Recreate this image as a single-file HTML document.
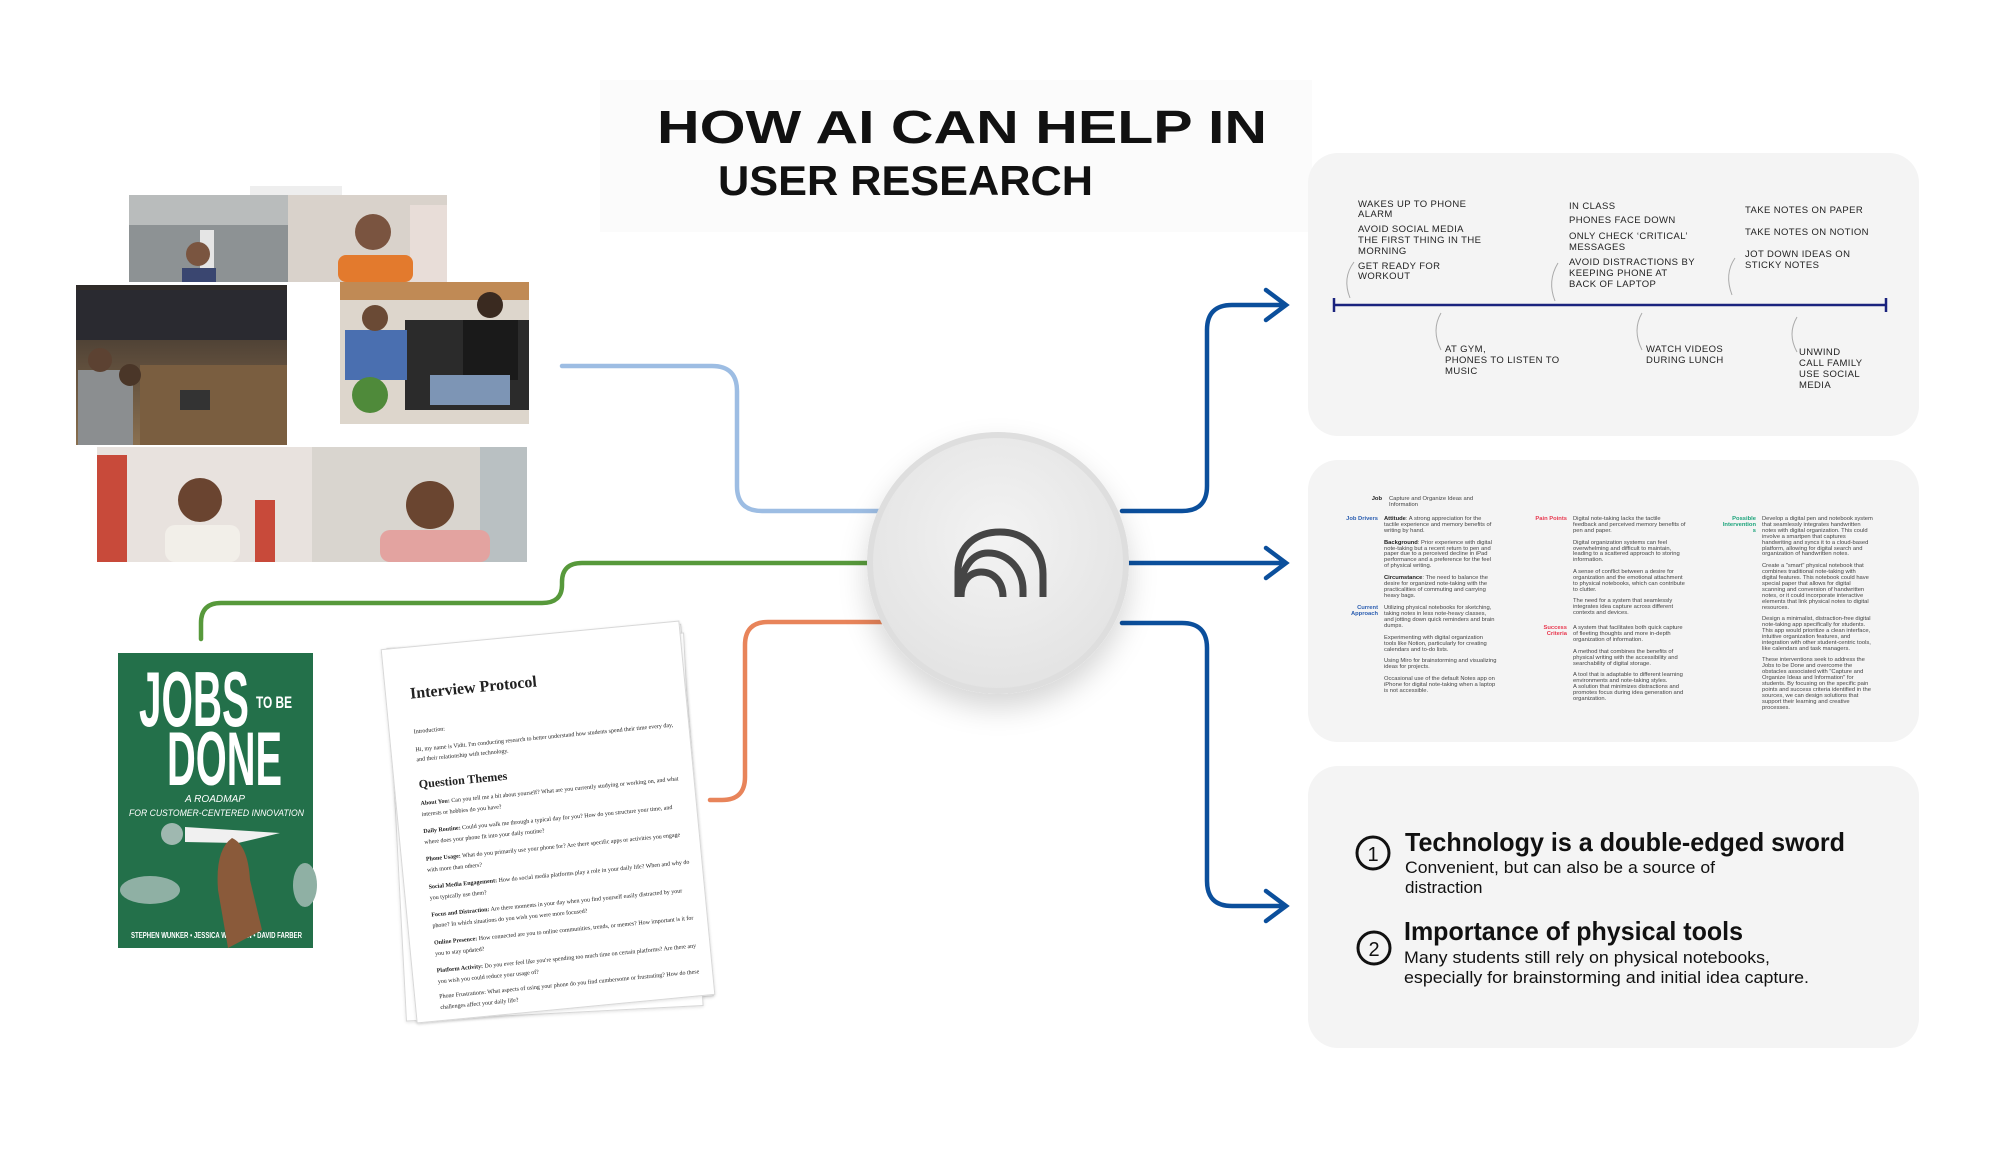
<!DOCTYPE html>
<html><head><meta charset="utf-8">
<style>
html,body{margin:0;padding:0;background:#fff;}
body{width:2000px;height:1176px;position:relative;overflow:hidden;font-family:"Liberation Sans",sans-serif;}
svg{position:absolute;left:0;top:0;}
.paper{position:absolute;background:#fff;border:1px solid #d8d8d8;box-shadow:0 1px 3px rgba(0,0,0,.12);}
.pt{font-family:"Liberation Serif",serif;color:#222;position:absolute;left:24px;width:265px;}
</style></head><body>

<div class="paper" style="left:400px;top:636px;width:296px;height:372px;transform:rotate(-5deg);"></div>
<div class="paper" style="left:396px;top:640px;width:296px;height:372px;transform:rotate(-3deg);"></div>
<div class="paper" style="left:398px;top:634px;width:298px;height:374px;transform:rotate(-5.5deg);">
  <div class="pt" style="top:38px;font-size:16px;font-weight:bold;">Interview Protocol</div>
  <div class="pt" style="top:82px;font-size:6px;">Introduction:</div>
  <div class="pt" style="top:98px;font-size:6px;line-height:10px;">Hi, my name is Vidit. I'm conducting research to better understand how students spend their time every day, and their relationship with technology.</div>
  <div class="pt" style="top:130px;font-size:12px;font-weight:bold;">Question Themes</div>
  <div class="pt" style="top:152px;font-size:6px;line-height:11px;"><b>About You:</b> Can you tell me a bit about yourself? What are you currently studying or working on, and what interests or hobbies do you have?</div>
  <div class="pt" style="top:180px;font-size:6px;line-height:11px;"><b>Daily Routine:</b> Could you walk me through a typical day for you? How do you structure your time, and where does your phone fit into your daily routine?</div>
  <div class="pt" style="top:208px;font-size:6px;line-height:11px;"><b>Phone Usage:</b> What do you primarily use your phone for? Are there specific apps or activities you engage with more than others?</div>
  <div class="pt" style="top:236px;font-size:6px;line-height:11px;"><b>Social Media Engagement:</b> How do social media platforms play a role in your daily life? When and why do you typically use them?</div>
  <div class="pt" style="top:264px;font-size:6px;line-height:11px;"><b>Focus and Distraction:</b> Are there moments in your day when you find yourself easily distracted by your phone? In which situations do you wish you were more focused?</div>
  <div class="pt" style="top:292px;font-size:6px;line-height:11px;"><b>Online Presence:</b> How connected are you to online communities, trends, or memes? How important is it for you to stay updated?</div>
  <div class="pt" style="top:320px;font-size:6px;line-height:11px;"><b>Platform Activity:</b> Do you ever feel like you're spending too much time on certain platforms? Are there any you wish you could reduce your usage of?</div>
  <div class="pt" style="top:346px;font-size:6px;line-height:11px;">Phone Frustrations: What aspects of using your phone do you find cumbersome or frustrating? How do these challenges affect your daily life?</div>
</div>

<svg width="2000" height="1176" viewBox="0 0 2000 1176">
<defs>
<radialGradient id="cg" cx="50%" cy="40%" r="60%"><stop offset="0" stop-color="#f3f3f3"/><stop offset="1" stop-color="#e3e3e3"/></radialGradient>
<filter id="sh" x="-30%" y="-30%" width="160%" height="170%"><feDropShadow dx="0" dy="14" stdDeviation="14" flood-color="#000" flood-opacity="0.16"/></filter>
<linearGradient id="lib" x1="0" y1="0" x2="0" y2="1"><stop offset="0" stop-color="#2e2a28"/><stop offset=".45" stop-color="#5a4a3a"/><stop offset="1" stop-color="#8a7050"/></linearGradient>
</defs>

<rect x="600" y="80" width="712" height="152" fill="#fbfbfb"/>
<text x="657" y="143" font-family="Liberation Sans" font-weight="bold" font-size="46" textLength="610" lengthAdjust="spacingAndGlyphs" fill="#111">HOW AI CAN HELP IN</text>
<text x="718" y="195" font-family="Liberation Sans" font-weight="bold" font-size="42" textLength="375" lengthAdjust="spacingAndGlyphs" fill="#111">USER RESEARCH</text>

<rect x="1308" y="153" width="611" height="283" rx="30" fill="#f4f4f4"/>
<rect x="1308" y="460" width="611" height="282" rx="30" fill="#f4f4f4"/>
<rect x="1308" y="766" width="611" height="282" rx="30" fill="#f4f4f4"/>

<g fill="none" stroke-width="4.5" stroke-linecap="round">
<path d="M562,366 H712 Q737,366 737,391 V486 Q737,511 762,511 H880" stroke="#9dbde3"/>
<path d="M201,639 V623 Q201,603 221,603 H542 Q562,603 562,585 V582 Q562,563 582,563 H872" stroke="#57993b"/>
<path d="M710,800 H722 Q745,800 745,777 V645 Q745,622 768,622 H882" stroke="#e8845a"/>
<path d="M1122,511 H1182 Q1207,511 1207,486 V330 Q1207,305 1232,305 H1286 M1266,290 L1286,305 L1266,320" stroke="#0b4f9c"/>
<path d="M1128,563 H1286 M1266,548 L1286,563 L1266,578" stroke="#0b4f9c"/>
<path d="M1122,623 H1182 Q1207,623 1207,648 V881 Q1207,906 1232,906 H1286 M1266,891 L1286,906 L1266,921" stroke="#0b4f9c"/>
</g>

<circle cx="998" cy="563" r="128" fill="url(#cg)" stroke="#dedede" stroke-width="6" filter="url(#sh)"/>
<g fill="none" stroke="#454545" stroke-width="7">
<path d="M958,597 V572 C958,545 977,532 1000,532 C1024,532 1043,548 1043,574 V597"/>
<path d="M960,590 C962,565 974,553 988,553 C1006,553 1023,567 1023,590 V597"/>
<path d="M961,597 C961,581 970,572 981,572 C994,572 1003,582 1003,597"/>
</g>

<line x1="1334" y1="305" x2="1886" y2="305" stroke="#1a237e" stroke-width="2.5"/>
<line x1="1334" y1="298" x2="1334" y2="312" stroke="#1a237e" stroke-width="2.5"/>
<line x1="1886" y1="298" x2="1886" y2="312" stroke="#1a237e" stroke-width="2.5"/>
<g fill="none" stroke="#aaa" stroke-width="1">
<path d="M1350,298 Q1342,278 1354,262"/><path d="M1555,301 Q1547,281 1558,263"/><path d="M1732,295 Q1724,274 1735,258"/>
<path d="M1441,313 Q1431,330 1441,350"/><path d="M1642,313 Q1632,330 1642,350"/><path d="M1797,317 Q1787,334 1797,352"/>
</g>
<g font-family="Liberation Sans" font-size="9.5" fill="#222" letter-spacing="0.4">
<text x="1358" y="207">WAKES UP TO PHONE</text><text x="1358" y="217">ALARM</text>
<text x="1358" y="232">AVOID SOCIAL MEDIA</text><text x="1358" y="243">THE FIRST THING IN THE</text><text x="1358" y="254">MORNING</text>
<text x="1358" y="269">GET READY FOR</text><text x="1358" y="279">WORKOUT</text>
<text x="1569" y="209">IN CLASS</text><text x="1569" y="223">PHONES FACE DOWN</text>
<text x="1569" y="239">ONLY CHECK ‘CRITICAL’</text><text x="1569" y="250">MESSAGES</text>
<text x="1569" y="265">AVOID DISTRACTIONS BY</text><text x="1569" y="276">KEEPING PHONE AT</text><text x="1569" y="287">BACK OF LAPTOP</text>
<text x="1745" y="213">TAKE NOTES ON PAPER</text><text x="1745" y="235">TAKE NOTES ON NOTION</text>
<text x="1745" y="257">JOT DOWN IDEAS ON</text><text x="1745" y="268">STICKY NOTES</text>
<text x="1445" y="352">AT GYM,</text><text x="1445" y="363">PHONES TO LISTEN TO</text><text x="1445" y="374">MUSIC</text>
<text x="1646" y="352">WATCH VIDEOS</text><text x="1646" y="363">DURING LUNCH</text>
<text x="1799" y="355">UNWIND</text><text x="1799" y="366">CALL FAMILY</text><text x="1799" y="377">USE SOCIAL</text><text x="1799" y="388">MEDIA</text>
</g>

<g font-family="Liberation Sans" font-size="5.8" fill="#444">
<text x="1382" y="500" text-anchor="end" font-weight="bold" fill="#222">Job</text>
<text x="1389" y="500">Capture and Organize Ideas and</text><text x="1389" y="506">Information</text>
<g text-anchor="end" font-weight="bold" fill="#2a5db0"><text x="1378" y="520">Job Drivers</text><text x="1378" y="609">Current</text><text x="1378" y="615">Approach</text></g>
<g text-anchor="end" font-weight="bold" fill="#e8384f"><text x="1567" y="520">Pain Points</text><text x="1567" y="629">Success</text><text x="1567" y="635">Criteria</text></g>
<g text-anchor="end" font-weight="bold" fill="#1aa37a"><text x="1756" y="520">Possible</text><text x="1756" y="526">Intervention</text><text x="1756" y="532">s</text></g>
<g>
<text x="1384" y="520"><tspan font-weight="bold" fill="#222">Attitude</tspan>: A strong appreciation for the</text>
<text x="1384" y="526">tactile experience and memory benefits of</text><text x="1384" y="532">writing by hand.</text>
<text x="1384" y="544"><tspan font-weight="bold" fill="#222">Background</tspan>: Prior experience with digital</text>
<text x="1384" y="550">note-taking but a recent return to pen and</text><text x="1384" y="555">paper due to a perceived decline in iPad</text>
<text x="1384" y="561">performance and a preference for the feel</text><text x="1384" y="567">of physical writing.</text>
<text x="1384" y="579"><tspan font-weight="bold" fill="#222">Circumstance</tspan>: The need to balance the</text>
<text x="1384" y="585">desire for organized note-taking with the</text><text x="1384" y="591">practicalities of commuting and carrying</text><text x="1384" y="597">heavy bags.</text>
<text x="1384" y="609">Utilizing physical notebooks for sketching,</text><text x="1384" y="615">taking notes in less note-heavy classes,</text>
<text x="1384" y="621">and jotting down quick reminders and brain</text><text x="1384" y="627">dumps.</text>
<text x="1384" y="639">Experimenting with digital organization</text><text x="1384" y="645">tools like Notion, particularly for creating</text><text x="1384" y="651">calendars and to-do lists.</text>
<text x="1384" y="662">Using Miro for brainstorming and visualizing</text><text x="1384" y="668">ideas for projects.</text>
<text x="1384" y="680">Occasional use of the default Notes app on</text><text x="1384" y="686">iPhone for digital note-taking when a laptop</text><text x="1384" y="692">is not accessible.</text>
</g>
<g>
<text x="1573" y="520">Digital note-taking lacks the tactile</text><text x="1573" y="526">feedback and perceived memory benefits of</text><text x="1573" y="532">pen and paper.</text>
<text x="1573" y="544">Digital organization systems can feel</text><text x="1573" y="550">overwhelming and difficult to maintain,</text><text x="1573" y="555">leading to a scattered approach to storing</text><text x="1573" y="561">information.</text>
<text x="1573" y="573">A sense of conflict between a desire for</text><text x="1573" y="579">organization and the emotional attachment</text><text x="1573" y="585">to physical notebooks, which can contribute</text><text x="1573" y="591">to clutter.</text>
<text x="1573" y="602">The need for a system that seamlessly</text><text x="1573" y="608">integrates idea capture across different</text><text x="1573" y="614">contexts and devices.</text>
<text x="1573" y="629">A system that facilitates both quick capture</text><text x="1573" y="635">of fleeting thoughts and more in-depth</text><text x="1573" y="641">organization of information.</text>
<text x="1573" y="653">A method that combines the benefits of</text><text x="1573" y="659">physical writing with the accessibility and</text><text x="1573" y="665">searchability of digital storage.</text>
<text x="1573" y="676">A tool that is adaptable to different learning</text><text x="1573" y="682">environments and note-taking styles.</text>
<text x="1573" y="688">A solution that minimizes distractions and</text><text x="1573" y="694">promotes focus during idea generation and</text><text x="1573" y="700">organization.</text>
</g>
<g>
<text x="1762" y="520">Develop a digital pen and notebook system</text><text x="1762" y="526">that seamlessly integrates handwritten</text><text x="1762" y="532">notes with digital organization. This could</text>
<text x="1762" y="538">involve a smartpen that captures</text><text x="1762" y="544">handwriting and syncs it to a cloud-based</text><text x="1762" y="550">platform, allowing for digital search and</text><text x="1762" y="555">organization of handwritten notes.</text>
<text x="1762" y="567">Create a "smart" physical notebook that</text><text x="1762" y="573">combines traditional note-taking with</text><text x="1762" y="579">digital features. This notebook could have</text>
<text x="1762" y="585">special paper that allows for digital</text><text x="1762" y="591">scanning and conversion of handwritten</text><text x="1762" y="597">notes, or it could incorporate interactive</text>
<text x="1762" y="603">elements that link physical notes to digital</text><text x="1762" y="609">resources.</text>
<text x="1762" y="620">Design a minimalist, distraction-free digital</text><text x="1762" y="626">note-taking app specifically for students.</text><text x="1762" y="632">This app would prioritize a clean interface,</text>
<text x="1762" y="638">intuitive organization features, and</text><text x="1762" y="644">integration with other student-centric tools,</text><text x="1762" y="650">like calendars and task managers.</text>
<text x="1762" y="661">These interventions seek to address the</text><text x="1762" y="667">Jobs to be Done and overcome the</text><text x="1762" y="673">obstacles associated with "Capture and</text>
<text x="1762" y="679">Organize Ideas and Information" for</text><text x="1762" y="685">students. By focusing on the specific pain</text><text x="1762" y="691">points and success criteria identified in the</text>
<text x="1762" y="697">sources, we can design solutions that</text><text x="1762" y="703">support their learning and creative</text><text x="1762" y="709">processes.</text>
</g>
</g>

<circle cx="1373" cy="853" r="16" fill="none" stroke="#111" stroke-width="3"/>
<text x="1373" y="861" text-anchor="middle" font-family="Liberation Sans" font-size="20" fill="#111">1</text>
<circle cx="1374" cy="948" r="16" fill="none" stroke="#111" stroke-width="3"/>
<text x="1374" y="956" text-anchor="middle" font-family="Liberation Sans" font-size="20" fill="#111">2</text>
<g font-family="Liberation Sans" fill="#111">
<text x="1405" y="851" font-size="26" font-weight="bold" textLength="440" lengthAdjust="spacingAndGlyphs">Technology is a double-edged sword</text>
<text x="1405" y="873" font-size="17" textLength="310" lengthAdjust="spacingAndGlyphs">Convenient, but can also be a source of</text>
<text x="1405" y="893" font-size="17">distraction</text>
<text x="1404" y="940" font-size="26" font-weight="bold" textLength="339" lengthAdjust="spacingAndGlyphs">Importance of physical tools</text>
<text x="1404" y="963" font-size="17" textLength="366" lengthAdjust="spacingAndGlyphs">Many students still rely on physical notebooks,</text>
<text x="1404" y="983" font-size="17" textLength="405" lengthAdjust="spacingAndGlyphs">especially for brainstorming and initial idea capture.</text>
</g>

<g>
<rect x="250" y="186" width="92" height="14" fill="#eee"/>
<rect x="129" y="195" width="159" height="87" fill="#8d9294"/>
<rect x="129" y="195" width="159" height="30" fill="#b9bcbc"/>
<rect x="200" y="230" width="14" height="50" fill="#e5e5e5"/>
<circle cx="198" cy="254" r="12" fill="#7a5540"/><rect x="182" y="268" width="34" height="14" fill="#3a4670"/>
<rect x="288" y="195" width="159" height="87" fill="#d9d2cb"/>
<rect x="410" y="205" width="37" height="77" fill="#e8ddd8"/>
<circle cx="373" cy="232" r="18" fill="#7a5440"/><rect x="338" y="255" width="75" height="27" rx="8" fill="#e37a2d"/>
<rect x="76" y="285" width="211" height="160" fill="url(#lib)"/>
<rect x="76" y="290" width="211" height="50" fill="#2a2a30"/>
<rect x="140" y="365" width="147" height="80" fill="#7a5e40"/>
<rect x="78" y="370" width="55" height="75" fill="#8b8e90"/><circle cx="100" cy="360" r="12" fill="#5c4232"/>
<circle cx="130" cy="375" r="11" fill="#4a3628"/><rect x="180" y="390" width="30" height="20" fill="#333"/>
<rect x="340" y="282" width="189" height="142" fill="#ddd6cc"/>
<rect x="340" y="282" width="189" height="18" fill="#c08a55"/>
<rect x="405" y="320" width="124" height="90" fill="#2b2b2b"/>
<rect x="345" y="330" width="62" height="50" fill="#4a6fb0"/><circle cx="375" cy="318" r="13" fill="#6a4a35"/>
<rect x="463" y="320" width="55" height="60" fill="#1a1a1a"/><circle cx="490" cy="305" r="13" fill="#3a2a20"/>
<rect x="430" y="375" width="80" height="30" fill="#7d95b5"/><circle cx="370" cy="395" r="18" fill="#4f8a3a"/>
<rect x="97" y="447" width="215" height="115" fill="#e8e2de"/>
<rect x="97" y="455" width="30" height="107" fill="#c84a3a"/><rect x="255" y="500" width="20" height="62" fill="#c84a3a"/>
<circle cx="200" cy="500" r="22" fill="#6a4430"/><rect x="165" y="525" width="75" height="37" rx="10" fill="#f2efe9"/>
<rect x="312" y="447" width="215" height="115" fill="#d9d5cf"/>
<rect x="480" y="447" width="47" height="115" fill="#b9c0c2"/>
<circle cx="430" cy="505" r="24" fill="#6a4530"/><rect x="380" y="530" width="110" height="32" rx="10" fill="#e3a3a0"/>
</g>

<rect x="118" y="653" width="195" height="295" fill="#23704a"/>
<g font-family="Liberation Sans" fill="#fff" font-weight="bold">
<text x="139" y="726" font-size="78" textLength="110" lengthAdjust="spacingAndGlyphs">JOBS</text>
<text x="256" y="708" font-size="17" textLength="36" lengthAdjust="spacingAndGlyphs">TO BE</text>
<text x="167" y="785" font-size="76" textLength="115" lengthAdjust="spacingAndGlyphs">DONE</text>
<text x="185" y="802" font-size="10" font-style="italic" font-weight="normal" textLength="60" lengthAdjust="spacingAndGlyphs">A ROADMAP</text>
<text x="129" y="816" font-size="9" font-style="italic" font-weight="normal" textLength="175" lengthAdjust="spacingAndGlyphs">FOR CUSTOMER-CENTERED INNOVATION</text>
<text x="131" y="938" font-size="8" textLength="171" lengthAdjust="spacingAndGlyphs">STEPHEN WUNKER • JESSICA WATTMAN • DAVID FARBER</text>
</g>
<polygon points="185,827 280,833 238,843 185,842" fill="#f0f0f0"/>
<circle cx="172" cy="834" r="11" fill="#9fb8b0"/>
<path d="M232,838 Q248,845 250,880 L262,930 L228,948 L218,890 Q215,850 232,838Z" fill="#8a5a3a"/>
<ellipse cx="150" cy="890" rx="30" ry="14" fill="#8fb0a4"/><ellipse cx="305" cy="885" rx="12" ry="22" fill="#8fb0a4"/>
</svg>
</body></html>
